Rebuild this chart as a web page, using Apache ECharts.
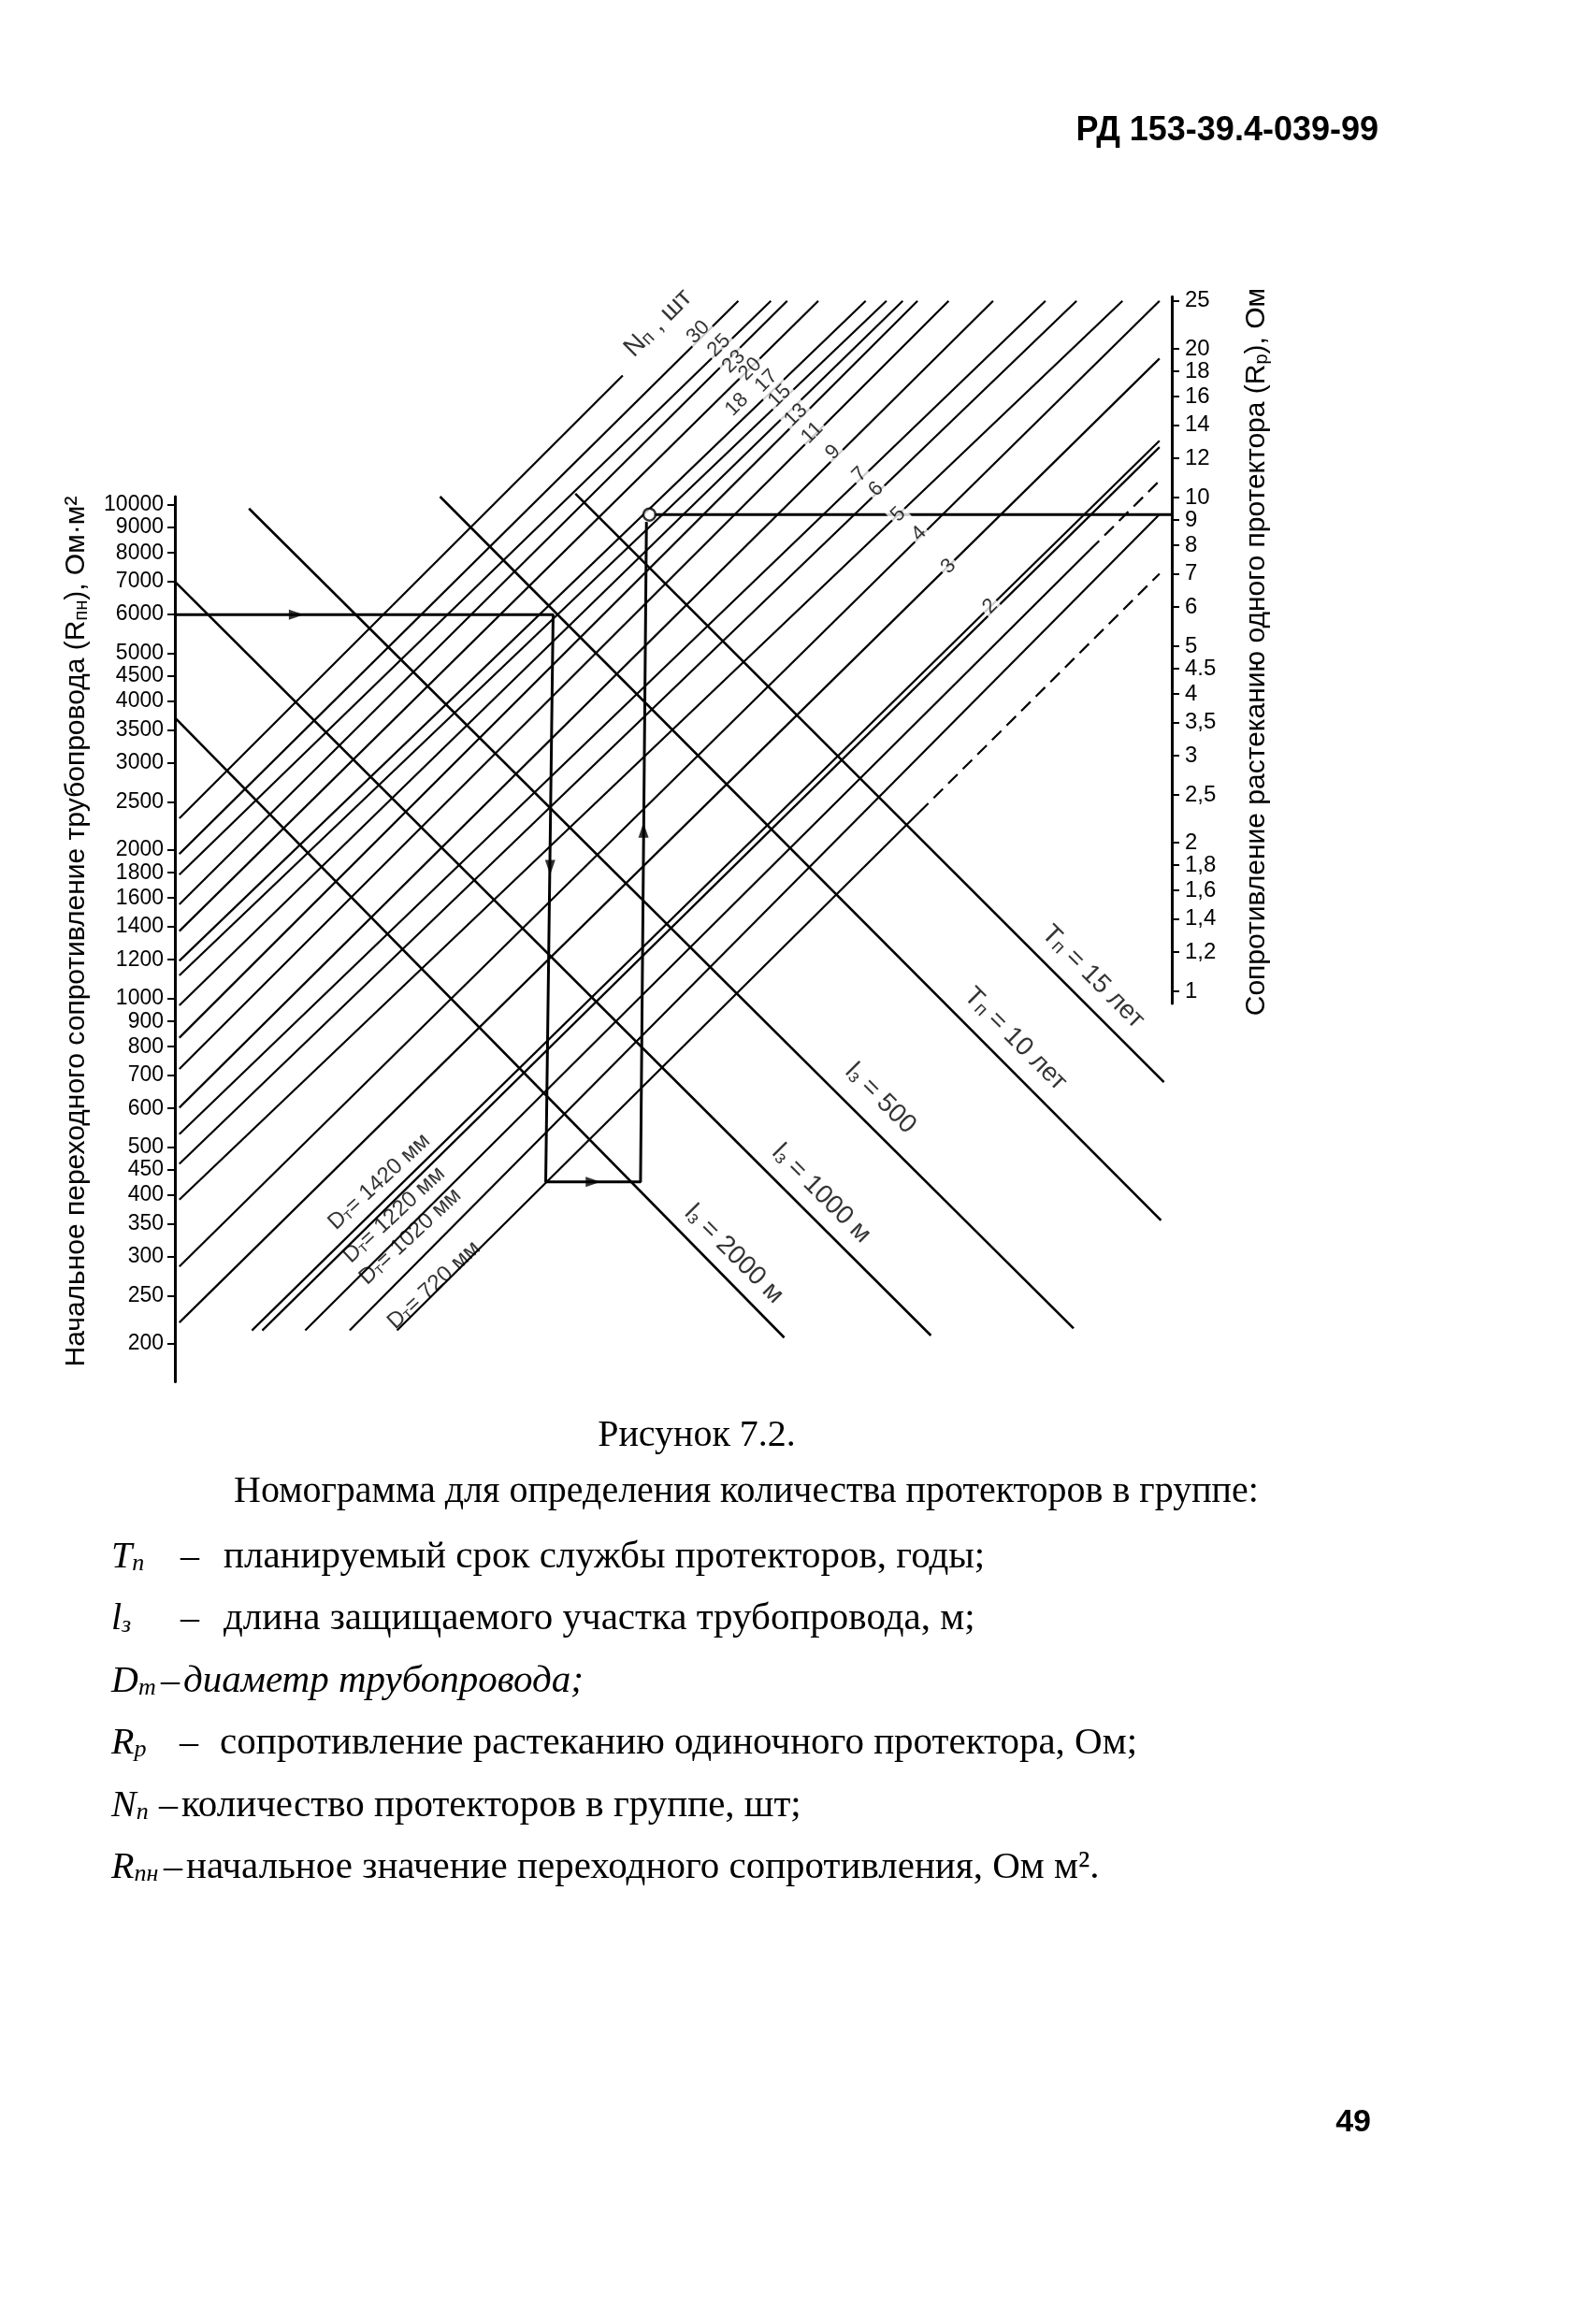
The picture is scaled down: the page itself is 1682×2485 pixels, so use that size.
<!DOCTYPE html>
<html>
<head>
<meta charset="utf-8">
<script src="https://cdn.jsdelivr.net/npm/echarts@6.0.0/dist/echarts.min.js"></script>
<style>
html,body{margin:0;padding:0;background:#fff}
#chart{width:1682px;height:2485px}
</style>
</head>
<body>
<div id="chart"></div>
<script>
// left scale: R, Ом·м2 ; right scale: Rp, Ом
var leftTicks = [200,250,300,350,400,450,500,600,700,800,900,1000,1200,1400,1600,1800,2000,2500,3000,3500,4000,4500,5000,6000,7000,8000,9000,10000];
var rightTicks = [1,1.2,1.4,1.6,1.8,2,2.5,3,3.5,4,4.5,5,6,7,8,9,10,12,14,16,18,20,25];
var rightTickText = ['1','1,2','1,4','1,6','1,8','2','2,5','3','3,5','4','4.5','5','6','7','8','9','10','12','14','16','18','20','25'];

// x is a free horizontal scale (decades from the left scale), y is R on the left scale
// rising lines (N and D families): lower end / upper end
var riseFrom = [[0.009,2320],[0.009,1965],[0.009,1784],[0.009,1553],[0.009,1371],[0.009,1194],[0.009,1115],
  [0.009,970],[0.009,834],[0.009,721],[0.009,602],[0.009,532],[0.009,463],[0.009,392],[0.009,287],[0.009,221],
  [0.156,213],[0.177,213],[0.264,213],[0.354,213],[0.450,213]];
var riseTo = [[0.907,18300],[1.141,25900],[1.207,25900],[1.240,25900],[1.303,25900],[1.399,25900],[1.441,25900],
  [1.474,25900],[1.504,25900],[1.567,25900],[1.657,25900],[1.763,25900],[1.826,25900],[1.919,25900],[1.994,25900],[1.994,19800],
  [1.994,13500],[1.994,13100],[1.853,8110],[1.994,9570],[1.507,2384]];
var riseDashFrom = [[1.853,8110],[1.507,2384]];
var riseDashTo = [[1.994,11200],[1.994,7260]];

// falling lines (lз = 2000, 1000, 500; Tп = 10, 15)
var fallFrom = [[0,3711],[0,7000],[0.150,9838],[0.537,10400],[0.811,10540]];
var fallTo = [[1.234,206],[1.531,208],[1.820,215],[1.997,356],[2.003,678]];

// worked example
var keyPath = [[0,6000],[0.766,6000],[0.751,426],[0.943,426],[0.955,9240]];
var keyOut = [[0.970,9568],[2.019,9568]];
var keyDot = [[0.961,9568]];
var arrowAt = [[0.246,6000],[0.760,1846],[0.847,426],[0.949,2194]];
var arrowTurn = [-90,180,-90,0];

// line labels
var nText = ['30','25','23','20','18','17','15','13','11','9','7','6','5','4','3','2'];
var nAt = [[1.060,22390],[1.102,21040],[1.132,19510],[1.165,18840],[1.138,15960],[1.198,17830],[1.225,16630],[1.258,15210],
  [1.291,14000],[1.333,12790],[1.387,11530],[1.420,10760],[1.465,9568],[1.507,8747],[1.567,7512],[1.651,6232]];
var nTitle = ['N{s|п} , шт'];
var nTitleAt = [[0.979,23350]];
var dText = ['D{s|т}= 1420 мм','D{s|т}= 1220 мм','D{s|т}= 1020 мм','D{s|т}= 720 мм'];
var dAt = [[0.414,426],[0.444,365],[0.477,330],[0.525,263]];
var tlText = ['T{s|п} = 15 лет','T{s|п} = 10 лет','l{s|з} = 500','l{s|з} = 1000 м','l{s|з} = 2000 м'];
var tlAt = [[1.859,1107],[1.702,828],[1.429,628],[1.309,403],[1.132,304]];

var ink = '#000';
var sans = '"Liberation Sans", Arial, sans-serif';
var serif = '"Liberation Serif", "Times New Roman", serif';

function segs(from, to) {
  var out = [];
  for (var i = 0; i < from.length; i++) {
    out.push({coords: [from[i], to[i]]});
  }
  return out;
}

function labels(at, texts, rot, size, bg) {
  return {
    type: 'scatter',
    xAxisIndex: 0, yAxisIndex: 0,
    data: at,
    symbolSize: 1,
    z: 6,
    silent: true,
    itemStyle: {color: 'rgba(0,0,0,0)'},
    label: {
      show: true, position: 'inside', rotate: rot,
      color: ink, fontFamily: sans, fontSize: size,
      backgroundColor: bg ? '#fff' : 'transparent',
      padding: bg ? [0, 3] : 0,
      formatter: function (p) { return texts[p.dataIndex]; },
      rich: {s: {fontSize: Math.round(size * 0.7), fontFamily: sans, color: ink, verticalAlign: 'bottom'}}
    }
  };
}

function legendRow(y, sym, dashX, bodyX, body, italic) {
  return [
    {type: 'text', x: 119, y: y, style: {text: sym, fontFamily: serif, fontSize: 40, fill: ink, verticalAlign: 'middle',
      rich: {
        i: {fontFamily: serif, fontSize: 40, fontStyle: 'italic', fill: ink},
        s: {fontFamily: serif, fontSize: 26, fontStyle: 'italic', fill: ink, verticalAlign: 'bottom'}
      }}},
    {type: 'text', x: dashX, y: y, style: {text: '–', fontFamily: serif, fontSize: 40, fill: ink, verticalAlign: 'middle'}},
    {type: 'text', x: bodyX, y: y, style: {text: body, fontFamily: serif, fontSize: 41, fontStyle: italic ? 'italic' : 'normal', fill: ink, verticalAlign: 'middle'}}
  ];
}

var chart = echarts.init(document.getElementById('chart'));

var graphics = [
  {type: 'text', x: 1474, y: 140, style: {text: 'РД 153-39.4-039-99', fontFamily: sans, fontSize: 36, fontWeight: 'bold', fill: ink, align: 'right', verticalAlign: 'middle'}},
  {type: 'text', x: 1466, y: 2270, style: {text: '49', fontFamily: sans, fontSize: 34, fontWeight: 'bold', fill: ink, align: 'right', verticalAlign: 'middle'}},
  {type: 'text', x: 82, y: 996, rotation: Math.PI / 2, style: {
    text: 'Начальное переходного сопротивление трубопровода (R{s|пн}), Ом·м²',
    fontFamily: sans, fontSize: 30, fill: ink, align: 'center', verticalAlign: 'middle',
    rich: {s: {fontSize: 20, fontFamily: sans, fill: ink, verticalAlign: 'bottom'}}}},
  {type: 'text', x: 1344, y: 697, rotation: Math.PI / 2, style: {
    text: 'Сопротивление растеканию одного протектора (R{s|р}), Ом',
    fontFamily: sans, fontSize: 30, fill: ink, align: 'center', verticalAlign: 'middle',
    rich: {s: {fontSize: 20, fontFamily: sans, fill: ink, verticalAlign: 'bottom'}}}},
  {type: 'text', x: 745, y: 1535, style: {text: 'Рисунок 7.2.', fontFamily: serif, fontSize: 40, fill: ink, align: 'center', verticalAlign: 'middle'}},
  {type: 'text', x: 250, y: 1595, style: {text: 'Номограмма для определения количества протекторов в группе:', fontFamily: serif, fontSize: 40, fill: ink, verticalAlign: 'middle'}}
];
graphics = graphics
  .concat(legendRow(1665, '{i|T}{s|п}', 193, 239, 'планируемый срок службы протекторов, годы;'))
  .concat(legendRow(1731, '{i|l}{s|з}', 193, 239, 'длина защищаемого участка трубопровода, м;'))
  .concat(legendRow(1798, '{i|D}{s|т}', 172, 196, 'диаметр трубопровода;', true))
  .concat(legendRow(1864, '{i|R}{s|р}', 192, 235, 'сопротивление растеканию одиночного протектора, Ом;'))
  .concat(legendRow(1931, '{i|N}{s|п}', 170, 194, 'количество протекторов в группе, шт;'))
  .concat(legendRow(1997, '{i|R}{s|пн}', 175, 199, 'начальное значение переходного сопротивления, Ом м².'));

var option = {
  animation: false,
  backgroundColor: '#fff',
  textStyle: {fontFamily: sans},
  grid: [
    {left: 187, width: 1066, top: 288.1, height: 1200.1},
    {left: 187, width: 1066, top: 531, height: 946.5},
    {left: 187, width: 1066, top: 317.3, height: 755.7}
  ],
  xAxis: [
    {gridIndex: 0, type: 'value', min: 0, max: 2.0189, show: false},
    {gridIndex: 1, type: 'value', min: 0, max: 1, show: false},
    {gridIndex: 2, type: 'value', min: 0, max: 1, show: false}
  ],
  yAxis: [
    {gridIndex: 0, type: 'log', min: 160, max: 30000, show: false},
    {
      gridIndex: 1, type: 'log', min: 167.7, max: 10400, position: 'left',
      axisLine: {show: true, onZero: false, lineStyle: {color: ink, width: 3}},
      axisTick: {show: true, length: 8, customValues: leftTicks, lineStyle: {color: ink, width: 2}},
      axisLabel: {customValues: leftTicks, margin: 12, color: ink, fontFamily: sans, fontSize: 23,
        formatter: function (v) { return String(Math.round(v)); }},
      splitLine: {show: false}
    },
    {
      gridIndex: 2, type: 'log', min: 0.945, max: 25.5, position: 'right',
      axisLine: {show: true, onZero: false, lineStyle: {color: ink, width: 3}},
      axisTick: {show: true, length: 8, customValues: rightTicks, lineStyle: {color: ink, width: 2}},
      axisLabel: {customValues: rightTicks, margin: 14, color: ink, fontFamily: sans, fontSize: 24,
        formatter: function (v) {
          var best = 0;
          for (var i = 1; i < rightTicks.length; i++) {
            if (Math.abs(rightTicks[i] - v) < Math.abs(rightTicks[best] - v)) best = i;
          }
          return rightTickText[best];
        }},
      splitLine: {show: false}
    }
  ],
  graphic: {elements: graphics},
  series: [
    {
      type: 'lines', coordinateSystem: 'cartesian2d', xAxisIndex: 0, yAxisIndex: 0,
      data: segs(riseFrom, riseTo), silent: true, z: 2,
      lineStyle: {color: ink, width: 2.2, opacity: 1}
    },
    {
      type: 'lines', coordinateSystem: 'cartesian2d', xAxisIndex: 0, yAxisIndex: 0,
      data: segs(riseDashFrom, riseDashTo), silent: true, z: 2,
      lineStyle: {color: ink, width: 2.2, opacity: 1, type: [14, 8]}
    },
    {
      type: 'lines', coordinateSystem: 'cartesian2d', xAxisIndex: 0, yAxisIndex: 0,
      data: segs(fallFrom, fallTo), silent: true, z: 3,
      lineStyle: {color: ink, width: 2.6, opacity: 1}
    },
    {
      type: 'line', xAxisIndex: 0, yAxisIndex: 0, data: keyPath, symbol: 'none', silent: true, z: 4,
      lineStyle: {color: ink, width: 3}
    },
    {
      type: 'line', xAxisIndex: 0, yAxisIndex: 0, data: keyOut, symbol: 'none', silent: true, z: 4,
      lineStyle: {color: ink, width: 3}
    },
    {
      type: 'scatter', xAxisIndex: 0, yAxisIndex: 0, data: keyDot, symbol: 'circle', symbolSize: 13, silent: true, z: 5,
      itemStyle: {color: '#fff', borderColor: ink, borderWidth: 2.5}
    },
    {
      type: 'scatter', xAxisIndex: 0, yAxisIndex: 0, symbol: 'triangle', symbolSize: [11, 16], silent: true, z: 5,
      data: arrowAt.map(function (p, i) { return {value: p, symbolRotate: arrowTurn[i]}; }),
      itemStyle: {color: ink}
    },
    labels(nAt, nText, 45, 22, true),
    labels(nTitleAt, nTitle, 45, 28, true),
    labels(dAt, dText, 43, 24, false),
    labels(tlAt, tlText, -45, 28, true)
  ]
};
chart.setOption(option);
</script>
</body>
</html>
